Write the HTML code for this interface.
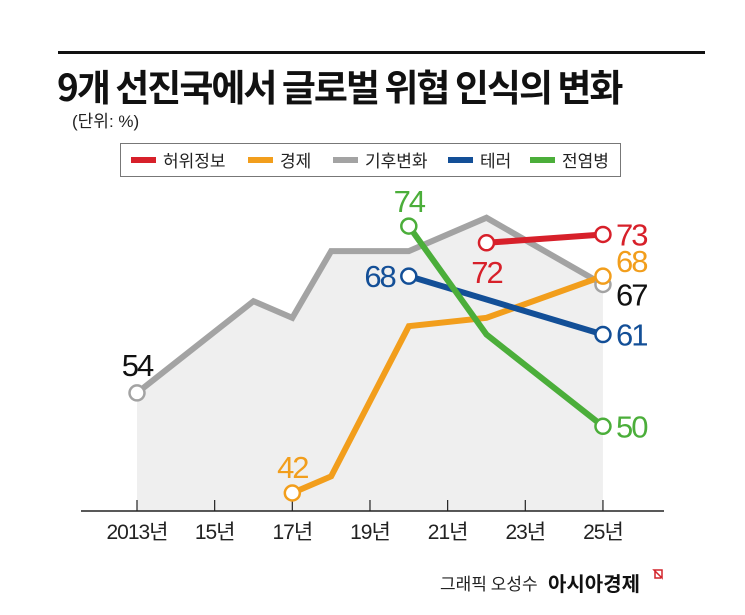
<!DOCTYPE html>
<html><head><meta charset="utf-8"><style>
html,body{margin:0;padding:0;background:#fff;}
body{width:745px;height:615px;overflow:hidden;position:relative;font-family:"Liberation Sans","Noto Sans CJK KR",sans-serif;}
svg{position:absolute;left:0;top:0;}
</style></head><body>
<svg width="745" height="615" viewBox="0 0 745 615">
  <rect x="58" y="51" width="647" height="3" fill="#111"/>
  <text x="57" y="101" font-size="37" font-weight="bold" fill="#111" font-family="'Noto Sans CJK KR',sans-serif" letter-spacing="-2">9개 선진국에서 글로벌 위협 인식의 변화</text>
  <text x="72" y="127" font-size="17" fill="#222" font-family="'Liberation Sans','Noto Sans CJK KR',sans-serif">(단위: %)</text>
  <g>
    <rect x="120.5" y="143.5" width="500" height="33" fill="#fff" stroke="#777"/>
  </g>
  <g id="legendItems"></g>
  <g id="plot"></g>
  <g font-family="'Noto Sans CJK KR',sans-serif">
    <text x="440" y="590" font-size="17" fill="#222">그래픽 오성수</text>
    <text x="548" y="591" font-size="20" font-weight="bold" fill="#111">아시아경제</text>
    <path d="M654 570 L662 570 L662 578 Z M655 571 L655 578 L661 578" fill="none" stroke="#d2232a" stroke-width="1.5"/>
  </g>
</svg>
<script>
const years = [2013,2015,2017,2019,2021,2023,2025];
const tickLabels = ["2013년","15년","17년","19년","21년","23년","25년"];
const seriesNames = ["허위정보","경제","기후변화","테러","전염병"];
const seriesColors = ["#d7202a","#f29e1c","#a3a3a3","#134f97","#4bae3a"];
const climateYears = [2013,2016,2017,2018,2019,2020,2022,2025];
const climateVals = [54,65,63,71,71,71,75,67];
const econYears = [2017,2018,2020,2022,2025];
const econVals = [42,44,62,63,68];
const pandemicYears = [2020,2022,2025];
const pandemicVals = [74,61,50];
const terrorYears = [2020,2025];
const terrorVals = [68,61];
const misinfoYears = [2022,2025];
const misinfoVals = [72,73];

const NS="http://www.w3.org/2000/svg";
const xS = y => 137 + (y-2013)*38.83;
const yS = v => 493 - (v-42)*8.34;
const baseY = 511;
const plot = document.getElementById('plot');
function mk(tag, attrs, parent){const e=document.createElementNS(NS,tag);for(const k in attrs)e.setAttribute(k,attrs[k]);(parent||plot).appendChild(e);return e;}

// legend
const leg = document.getElementById('legendItems');
const legX = [131,248,333,448,530];
seriesNames.forEach((n,i)=>{
  const g = mk('g',{},leg);
  
  
  mk('rect',{x:legX[i],y:157,width:25,height:6,fill:seriesColors[i]},g);
  const t = mk('text',{x:legX[i]+32,y:167,'font-size':17,fill:'#222','font-family':"'Noto Sans CJK KR',sans-serif"},g);
  t.textContent=n;
});

// area under climate
let d = `M${xS(climateYears[0])},${baseY}`;
climateYears.forEach((y,i)=>{d+=` L${xS(y)},${yS(climateVals[i])}`;});
d += ` L${xS(climateYears[climateYears.length-1])},${baseY} Z`;
const area = mk('path',{d,fill:'#efefef'});



// axis
const ax = mk('line',{x1:81,x2:664,y1:baseY,y2:baseY,stroke:'#222','stroke-width':1.5});


years.forEach((y,i)=>{
  const tk = mk('line',{x1:xS(y),x2:xS(y),y1:baseY-11,y2:baseY,stroke:'#222','stroke-width':1.2});
  
  
  const t = mk('text',{x:xS(y),y:539,'text-anchor':'middle','font-size':21,fill:'#222','letter-spacing':'-1','font-family':"'Liberation Sans Narrow','Liberation Sans','Noto Sans CJK KR',sans-serif"});
  t.textContent = tickLabels[i];
  
  
});

function line(ys, vs, color, name){
  const pts = ys.map((y,i)=>`${xS(y)},${yS(vs[i])}`).join(' ');
  const p = mk('polyline',{points:pts,fill:'none',stroke:color,'stroke-width':6,'stroke-linejoin':'miter'});
  
  
}
function dot(y,v,color,name){
  const c = mk('circle',{cx:xS(y),cy:yS(v),r:7.5,fill:'#fff',stroke:color,'stroke-width':2.5});
  
  
}
function label(x,y,txt,color,anchor,name){
  const t = mk('text',{x,y,'text-anchor':anchor,'font-size':31,fill:color,'letter-spacing':'-2','font-family':"'Liberation Sans Narrow','Liberation Sans',sans-serif"});
  t.textContent = txt;
  
  
}
const L = a => a[a.length-1];
line(climateYears, climateVals, seriesColors[2], 'climate');
line(econYears, econVals, seriesColors[1], 'economy');
line(terrorYears, terrorVals, seriesColors[3], 'terror');
line(pandemicYears, pandemicVals, seriesColors[4], 'pandemic');
line(misinfoYears, misinfoVals, seriesColors[0], 'misinfo');

dot(climateYears[0],climateVals[0],seriesColors[2],'climate-start');
dot(L(climateYears),L(climateVals),seriesColors[2],'climate-end');
dot(econYears[0],econVals[0],seriesColors[1],'economy-start');
dot(L(econYears),L(econVals),seriesColors[1],'economy-end');
dot(terrorYears[0],terrorVals[0],seriesColors[3],'terror-start');
dot(L(terrorYears),L(terrorVals),seriesColors[3],'terror-end');
dot(pandemicYears[0],pandemicVals[0],seriesColors[4],'pandemic-start');
dot(L(pandemicYears),L(pandemicVals),seriesColors[4],'pandemic-end');
dot(misinfoYears[0],misinfoVals[0],seriesColors[0],'misinfo-start');
dot(L(misinfoYears),L(misinfoVals),seriesColors[0],'misinfo-end');

const ex = xS(2025)+13;
label(xS(climateYears[0]), yS(climateVals[0])-17, climateVals[0], '#111','middle','climate-start-label');
label(xS(econYears[0]), yS(econVals[0])-15, econVals[0], seriesColors[1],'middle','economy-start-label');
label(xS(pandemicYears[0]), yS(pandemicVals[0])-14, pandemicVals[0], seriesColors[4],'middle','pandemic-start-label');
label(xS(terrorYears[0])-14, yS(terrorVals[0])+11, terrorVals[0], seriesColors[3],'end','terror-start-label');
label(xS(misinfoYears[0]), yS(misinfoVals[0])+40, misinfoVals[0], seriesColors[0],'middle','misinfo-start-label');
label(ex, yS(L(misinfoVals))+11, L(misinfoVals), seriesColors[0],'start','misinfo-end-label');
label(ex, yS(L(econVals))-4, L(econVals), seriesColors[1],'start','economy-end-label');
label(ex, yS(L(climateVals))+21, L(climateVals), '#111','start','climate-end-label');
label(ex, yS(L(terrorVals))+11, L(terrorVals), seriesColors[3],'start','terror-end-label');
label(ex, yS(L(pandemicVals))+11, L(pandemicVals), seriesColors[4],'start','pandemic-end-label');
</script>
</body></html>
